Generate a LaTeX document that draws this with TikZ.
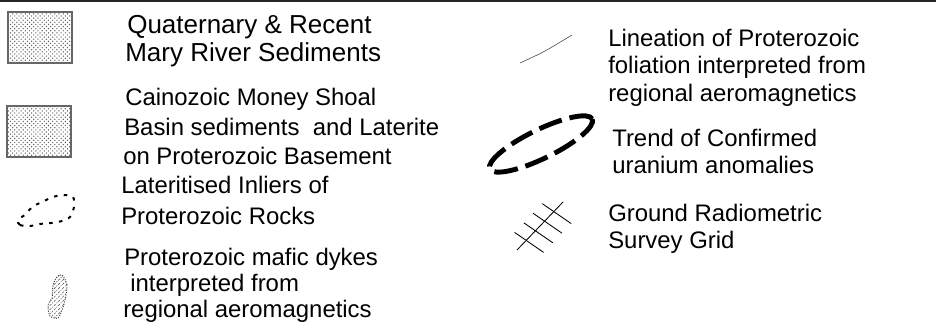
\documentclass[tikz,border=0pt]{standalone}
\usepackage{fontspec}
\setmainfont{Liberation Sans}
\usetikzlibrary{patterns,calc,decorations.pathreplacing}

\begin{document}
\begin{tikzpicture}[
    legtext/.style={anchor=base west, inner sep=0pt, font=\fontsize{17}{20}\selectfont},
    bigtext/.style={legtext, font=\fontsize{18.5}{22}\selectfont},
    stipplebox/.style={draw=black!60, line width=1.4pt, pattern=crosshatch dots, pattern color=black!65}]
        \useasboundingbox (0,0) rectangle (23.4,-8.15);
        \draw[line width=1.4pt, black!85] (0,-0.025) -- (23.4,-0.025);

        \def\x{3.175}
        \def\y{-0.85}
        \draw[stipplebox] (0.2,-0.3) rectangle (1.8,-1.575);
        \node[bigtext] (q1) at (\x,\y) {Quaternary \& Recent};
        \node[bigtext] (q2) at (\x-.05,\y-.7) {Mary River Sediments};

        \def\x{3.125}
        \def\y{-2.6375}
        \draw[stipplebox] (0.175,-2.65) rectangle (1.775,-3.925);
        \node[legtext] (c1) at (\x,\y) {Cainozoic Money Shoal};
        \node[legtext] (c2) at (\x-.025,\y-.74) {Basin sediments\ \ and Laterite};
        \node[legtext] (c3) at (\x-.05,\y-1.48) {on Proterozoic Basement};

        \def\x{3.025}
        \def\y{-4.85}
        \draw[line width=1.4pt, dash pattern=on 2.5pt off 4.5pt] plot[smooth cycle] coordinates {(0.45,-5.5) (0.5,-5.625) (0.75,-5.65) (1.0,-5.6) (1.275,-5.575) (1.55,-5.525) (1.75,-5.425) (1.85,-5.175) (1.825,-4.925) (1.575,-4.875) (1.325,-4.925) (1.05,-5.05) (0.8,-5.175) (0.65,-5.35)};
        \node[legtext] (l1) at (\x,\y) {Lateritised Inliers of};
        \node[legtext] (l2) at (\x,\y-.76) {Proterozoic Rocks};

        \def\x{3.1}
        \def\y{-6.65}
        \draw[black!75, line width=0.7pt, densely dotted, pattern=north east lines, pattern color=black!75] plot[smooth cycle] coordinates {(1.55,-6.875) (1.675,-7.125) (1.625,-7.5) (1.55,-7.75) (1.45,-7.95) (1.25,-7.9) (1.2,-7.625) (1.3,-7.45) (1.325,-7.125) (1.425,-6.925)};
        \node[legtext] (d1) at (\x,\y) {Proterozoic mafic dykes};
        \node[legtext] (d2) at (\x+.15,\y-.65) {interpreted from};
        \node[legtext] (d3) at (\x-.025,\y-1.3) {regional aeromagnetics};

        \def\x{15.2}
        \def\y{-1.1625}
        \draw[line width=0.4pt, black!75, postaction={decorate, decoration={ticks, segment length=2.5pt, amplitude=1.3pt}}] (13.0,-1.575) .. controls (13.6,-1.3) .. (14.3,-0.875);
        \node[legtext] (f1) at (\x,\y) {Lineation of Proterozoic};
        \node[legtext] (f2) at (\x,\y-.6875) {foliation interpreted from};
        \node[legtext] (f3) at (\x,\y-1.375) {regional aeromagnetics};

        \def\y{-3.6625}
        \draw[shift={(13.525,-3.6)}, rotate=26, line width=3.5pt, dash pattern=on 17pt off 5.7pt] (0,0) ellipse [x radius=1.425, y radius=0.36];
        \node[legtext] (u1) at (\x+.1,\y) {Trend of Confirmed};
        \node[legtext] (u2) at (\x+.1,\y-.675) {uranium anomalies};

        \def\y{-5.5375}
        \coordinate (ga) at (12.925,-6.25);
        \coordinate (gb) at (14.075,-5.05);
        \draw[line width=0.6pt] (ga) -- (gb);
        \foreach \t in {0.2,0.4,0.6,0.8}
            \draw[line width=0.6pt] ($(ga)!\t!(gb)+(-0.29,0.2)$) -- ++(0.725,-0.5);
        \node[legtext] (g1) at (\x,\y) {Ground Radiometric};
        \node[legtext] (g2) at (\x,\y-.675) {Survey Grid};
    \end{tikzpicture}
\end{document}
